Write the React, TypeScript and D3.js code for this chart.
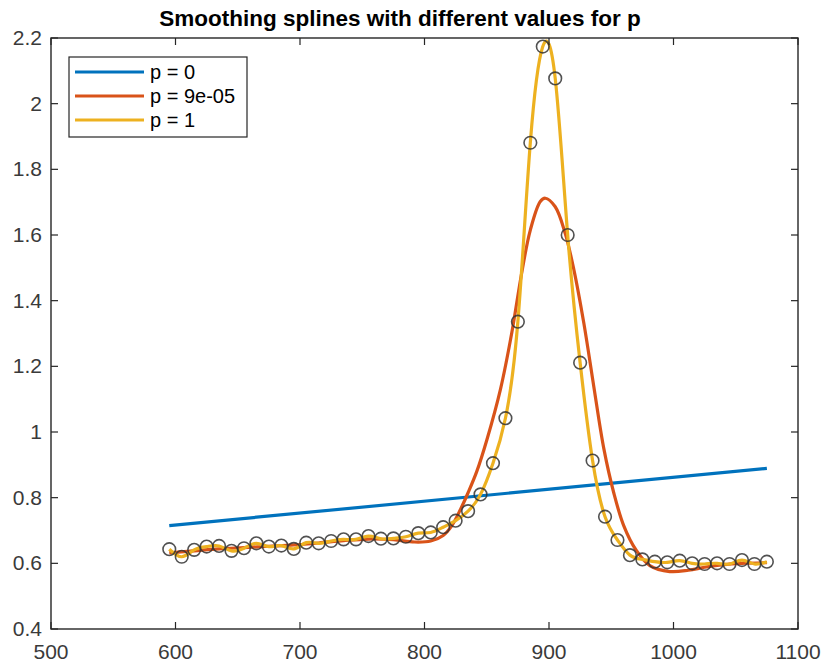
import React from "react";
import * as d3 from "d3";

const DATA_X = [595, 605, 615, 625, 635, 645, 655, 665, 675, 685, 695, 705, 715, 725, 735, 745, 755, 765, 775, 785, 795, 805, 815, 825, 835, 845, 855, 865, 875, 885, 895, 905, 915, 925, 935, 945, 955, 965, 975, 985, 995, 1005, 1015, 1025, 1035, 1045, 1055, 1065, 1075];
const DATA_Y = [0.643, 0.620, 0.641, 0.651, 0.653, 0.638, 0.646, 0.661, 0.651, 0.654, 0.644, 0.663, 0.661, 0.668, 0.673, 0.673, 0.683, 0.675, 0.676, 0.681, 0.692, 0.694, 0.710, 0.730, 0.759, 0.810, 0.905, 1.042, 1.336, 1.881, 2.174, 2.077, 1.600, 1.211, 0.913, 0.742, 0.671, 0.625, 0.612, 0.605, 0.603, 0.608, 0.600, 0.598, 0.600, 0.598, 0.610, 0.598, 0.605];

const BLUE_X = [595, 1075];
const BLUE_Y = [0.715, 0.889];

const ORANGE_X = [595, 615, 635, 655, 675, 695, 715, 735, 755, 775, 792, 805, 815, 822, 829, 835, 842, 850, 861, 870, 878, 885, 893, 897, 905, 913, 920, 928, 936, 944, 952, 960, 970, 981, 997, 1012, 1025, 1040, 1055, 1075];
const ORANGE_Y = [0.632, 0.638, 0.644, 0.648, 0.652, 0.656, 0.662, 0.669, 0.674, 0.672, 0.665, 0.668, 0.685, 0.715, 0.765, 0.815, 0.880, 0.975, 1.130, 1.300, 1.483, 1.615, 1.702, 1.712, 1.686, 1.605, 1.494, 1.331, 1.138, 0.950, 0.815, 0.715, 0.640, 0.593, 0.575, 0.579, 0.588, 0.596, 0.600, 0.602];

const X_TICKS = [500, 600, 700, 800, 900, 1000, 1100];
const Y_TICKS = [0.4, 0.6, 0.8, 1, 1.2, 1.4, 1.6, 1.8, 2, 2.2];
const LEGEND = ["p = 0", "p = 9e-05", "p = 1"];
const COLORS = ["#0072BD", "#D95319", "#EDB120"];
const TITLE = "Smoothing splines with different values for p";

const W = 825, H = 664;
const L = 51, R = 798, T = 38, B = 629;

export default function App() {
  const x = d3.scaleLinear().domain([500, 1100]).range([L, R]);
  const y = d3.scaleLinear().domain([0.4, 2.2]).range([B, T]);
  const pts = (xs: number[], ys: number[]) => xs.map((v, i) => [v, ys[i]] as [number, number]);
  const lineStraight = d3.line<[number, number]>().x(d => x(d[0])).y(d => y(d[1]));
  const lineOrange = d3.line<[number, number]>().x(d => x(d[0])).y(d => y(d[1])).curve(d3.curveCatmullRom.alpha(0.5));
  const lineYellow = d3.line<[number, number]>().x(d => x(d[0])).y(d => y(d[1])).curve(d3.curveNatural);
  const axisColor = "#262626";
  const font = "Arial, 'Liberation Sans', Helvetica, sans-serif";
  const tl = 7;
  return (
    <svg width={W} height={H} style={{ position: "absolute", left: 0, top: 0, background: "#fff" }} fontFamily={font}>
      <defs>
        <clipPath id="plotclip"><rect x={L} y={T} width={R - L} height={B - T} /></clipPath>
      </defs>
      <rect x={0} y={0} width={W} height={H} fill="#fff" />
      <text x={400} y={26} textAnchor="middle" fontSize={22.5} fontWeight="bold" fill="#000">{TITLE}</text>
      <g clipPath="url(#plotclip)">
        <path d={lineStraight(pts(BLUE_X, BLUE_Y)) || ""} fill="none" stroke={COLORS[0]} strokeWidth={3.2} />
        <path d={lineOrange(pts(ORANGE_X, ORANGE_Y)) || ""} fill="none" stroke={COLORS[1]} strokeWidth={3.2} />
        <path d={lineYellow(pts(DATA_X, DATA_Y)) || ""} fill="none" stroke={COLORS[2]} strokeWidth={3.2} />
        {DATA_X.map((v, i) => (
          <circle key={i} cx={x(v)} cy={y(DATA_Y[i])} r={6.3} fill="none" stroke="#333" strokeOpacity={0.85} strokeWidth={1.6} />
        ))}
      </g>
      <rect x={L} y={T} width={R - L} height={B - T} fill="none" stroke={axisColor} strokeWidth={1.4} />
      {X_TICKS.map(t => (
        <g key={"x" + t}>
          <line x1={x(t)} x2={x(t)} y1={B} y2={B - tl} stroke={axisColor} strokeWidth={1.2} />
          <line x1={x(t)} x2={x(t)} y1={T} y2={T + tl} stroke={axisColor} strokeWidth={1.2} />
          <text x={x(t)} y={659} textAnchor="middle" fontSize={21} fill="#3a3a3a">{t}</text>
        </g>
      ))}
      {Y_TICKS.map(t => (
        <g key={"y" + t}>
          <line x1={L} x2={L + tl} y1={y(t)} y2={y(t)} stroke={axisColor} strokeWidth={1.2} />
          <line x1={R} x2={R - tl} y1={y(t)} y2={y(t)} stroke={axisColor} strokeWidth={1.2} />
          <text x={42} y={y(t) + 7} textAnchor="end" fontSize={21} fill="#3a3a3a">{String(t)}</text>
        </g>
      ))}
      <g>
        <rect x={69} y={57} width={178} height={80} fill="#fff" stroke={axisColor} strokeWidth={1.2} />
        {LEGEND.map((s, i) => (
          <g key={s}>
            <line x1={75} x2={144} y1={72 + i * 24} y2={72 + i * 24} stroke={COLORS[i]} strokeWidth={3.2} />
            <text x={150} y={72 + i * 24 + 7} fontSize={20} fill="#000">{s}</text>
          </g>
        ))}
      </g>
    </svg>
  );
}
